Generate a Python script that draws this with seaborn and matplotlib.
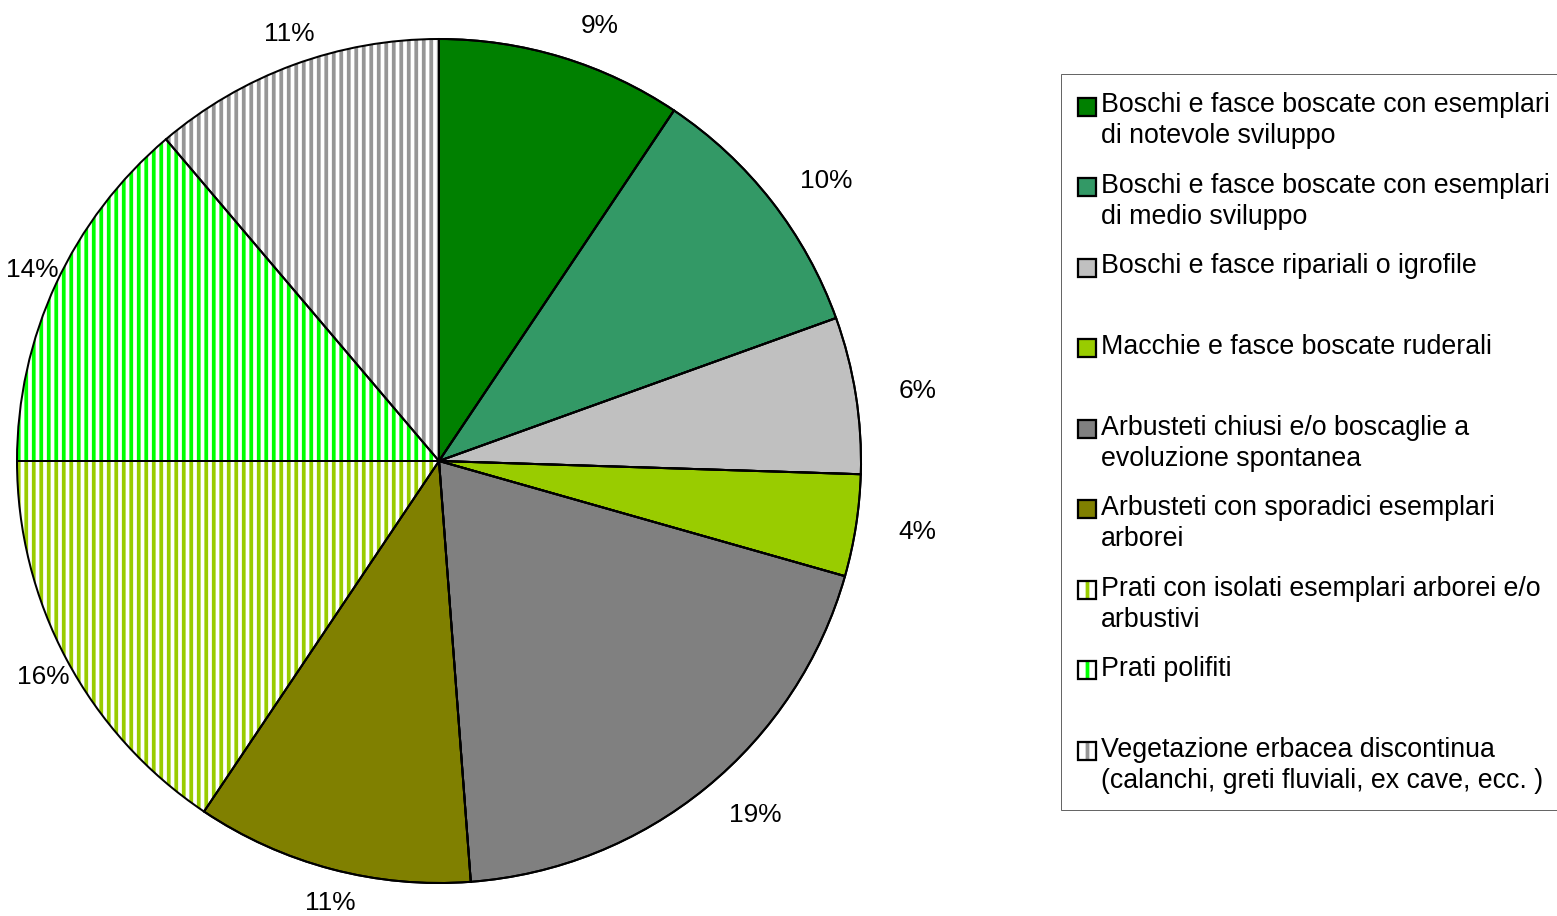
import matplotlib
matplotlib.use("Agg")
import numpy as np
import matplotlib.pyplot as plt
import seaborn as sns
from matplotlib.patches import Patch, Rectangle
from matplotlib.legend_handler import HandlerPatch, HandlerTuple

# ==================== DATA ====================
categories = [
    "Boschi e fasce boscate con esemplari\ndi notevole sviluppo",
    "Boschi e fasce boscate con esemplari\ndi medio sviluppo",
    "Boschi e fasce ripariali o igrofile",
    "Macchie e fasce boscate ruderali",
    "Arbusteti chiusi e/o boscaglie a\nevoluzione spontanea",
    "Arbusteti con sporadici esemplari\narborei",
    "Prati con isolati esemplari arborei e/o\narbustivi",
    "Prati polifiti",
    "Vegetazione erbacea discontinua\n(calanchi, greti fluviali, ex cave, ecc. )",
]
shares = [9.4, 10.1, 6.0, 3.9, 19.4, 10.6, 15.6, 13.8, 11.2]
colors = ["#008000", "#339966", "#C0C0C0", "#99CC00", "#808080",
          "#808000", "#99CC00", "#00FF00", "#969696"]
striped = [False, False, False, False, False, False, True, True, True]

# ==================== STYLE ====================
DPI = 90
W, H = 1557, 917
sns.set_style("white")
plt.rcParams["font.family"] = ["Liberation Sans", "DejaVu Sans"]
plt.rcParams["text.color"] = "black"
plt.rcParams["hatch.linewidth"] = 3.0

fig = plt.figure(figsize=(W / DPI, H / DPI), dpi=DPI)
R, cx, cy = 422, 439, 462
ax = fig.add_axes([(cx - R) / W, (H - cy - R) / H, 2 * R / W, 2 * R / H])

wedges, texts, autotexts = ax.pie(
    shares, colors=colors, startangle=90, counterclock=False,
    autopct="%.0f%%", pctdistance=1.0,
    wedgeprops=dict(edgecolor="black", linewidth=1.6),
    textprops=dict(fontsize=21, color="black"),
)

# striped slices: white ground with coloured vertical lines
for w, c, s in zip(wedges, colors, striped):
    if s:
        w.set_facecolor("white")
        w.set_edgecolor(c)
        w.set_hatch("||")
        w.set_linewidth(0)

# black outlines on top
ax.pie(shares, startangle=90, counterclock=False,
       wedgeprops=dict(facecolor="none", edgecolor="black", linewidth=1.6))

# labels just outside the rim, right-hand ones pushed a little further
gap = 34 / R
for w, t in zip(wedges, autotexts):
    th = np.deg2rad((w.theta1 + w.theta2) / 2)
    c, s = np.cos(th), np.sin(th)
    shift = (28 if c > 0 else 7) / R
    t.set_position((c * (1 + gap) + shift, s * (1 + gap)))

ax.set_xlim(-1, 1)
ax.set_ylim(-1, 1)

# ==================== LEGEND ====================
handles = []
for c, s in zip(colors, striped):
    if s:
        handles.append((Patch(facecolor="white", edgecolor=c, hatch="|", linewidth=0),
                        Patch(facecolor="none", edgecolor="black", linewidth=1.8)))
    else:
        handles.append(Patch(facecolor=c, edgecolor="black", linewidth=1.8))

labels = [c if "\n" in c else c + "\n " for c in categories]


def raised_square(legend, orig_handle, xdescent, ydescent, width, height, fontsize):
    return Rectangle((-xdescent, -ydescent + 0.52 * fontsize), width, height)


leg = fig.legend(
    handles, labels, loc="upper left",
    bbox_to_anchor=(1061 / W, 1 - 75 / H), borderaxespad=0,
    fontsize=21.4, frameon=True, fancybox=False, shadow=False,
    handlelength=0.65, handleheight=0.65, handletextpad=0.2,
    labelspacing=0.88, borderpad=0.65,
    handler_map={Patch: HandlerPatch(patch_func=raised_square),
                 tuple: HandlerTuple(ndivide=1, pad=0)},
)
leg.get_frame().set_edgecolor("#404040")
leg.get_frame().set_linewidth(0.8)
for t in leg.get_texts():
    t.set_linespacing(1.25)
    t.set_color("black")

fig.savefig("out.png", dpi=DPI, facecolor="white")
